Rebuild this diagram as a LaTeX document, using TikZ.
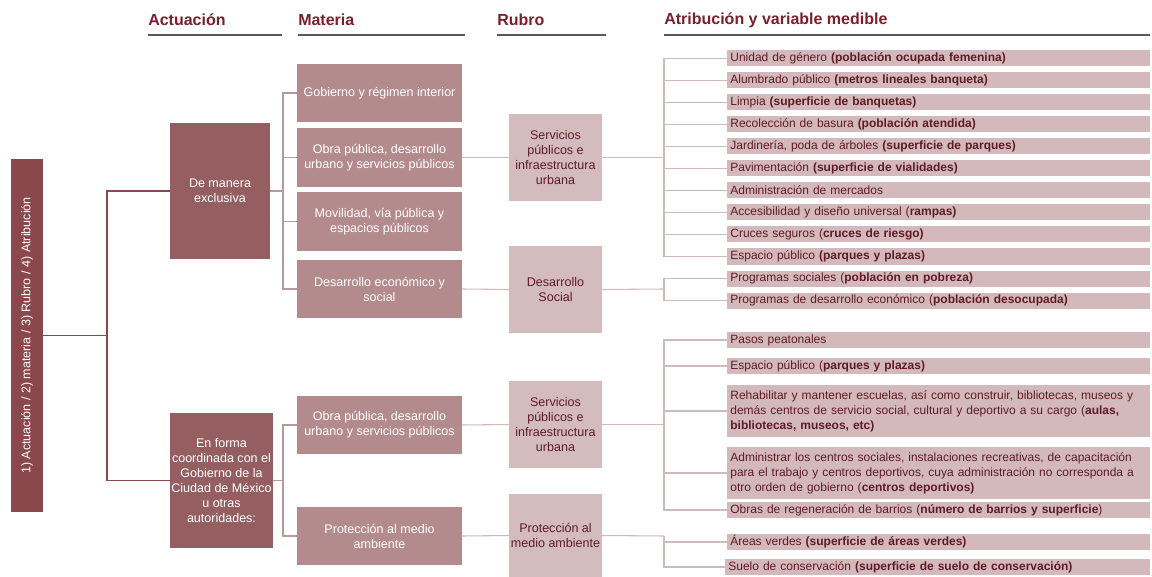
\documentclass[tikz,border=0pt]{standalone}
\usepackage{fontspec}
\setmainfont{Liberation Sans}
\definecolor{cL}{HTML}{8A474C}
\definecolor{cA}{HTML}{955F62}
\definecolor{cM}{HTML}{B48B8C}
\definecolor{cR}{HTML}{D4BBBD}
\definecolor{cRow}{HTML}{D3B9BB}
\definecolor{cHead}{HTML}{7A1F2B}
\definecolor{cTxt}{HTML}{5E1B27}
\definecolor{cLineA}{HTML}{8A474C}
\definecolor{cLineB}{HTML}{B39A9B}
\definecolor{cLineC}{HTML}{CDBBBC}
\definecolor{cUl}{HTML}{5A5A5A}
\newcommand\boxat[6]{\node[#1,anchor=north west,minimum width=#4*0.75pt,minimum height=#5*0.75pt] (#2) at (#3) {#6};}
\newcommand\rowat[4]{\node[rowbox,anchor=north west,minimum height=#3*0.75pt] (#1) at (727,#2) {#4};}
\tikzset{
  allbox/.style={rectangle, inner sep=1pt, outer sep=0pt, align=center},
  leftbox/.style={allbox, fill=cL},
  actbox/.style={allbox, fill=cA, text=white, font=\fontsize{9.4}{11.25}\selectfont},
  matbox/.style={allbox, fill=cM, text=white, font=\fontsize{9.4}{11.25}\selectfont},
  rubbox/.style={allbox, fill=cR, text=cTxt, font=\fontsize{9.4}{11.25}\selectfont},
  rowbox/.style={rectangle, fill=cRow, text=cTxt, outer sep=0pt, inner xsep=2.5pt, inner ysep=0pt,
    minimum width=423*0.75pt, text width=423*0.75pt-5pt, align=left, font=\fontsize{9}{11.25}\selectfont},
  head/.style={anchor=west, text=cHead, font=\fontsize{12}{14}\selectfont\bfseries, inner sep=0pt},
  uline/.style={draw=cUl, line width=1.1pt},
  connA/.style={draw=cLineA, line width=1pt},
  connB/.style={draw=cLineB, line width=0.8pt},
  connC/.style={draw=cLineC, line width=0.8pt},
}
\begin{document}
\begin{tikzpicture}[x=0.75pt,y=-0.75pt]
\useasboundingbox[fill=white] (0,0) rectangle (1152,577);

% headers
\node[head] (h1) at (148,20) {Actuación};
\node[head] (h2) at (298,20) {Materia};
\node[head] (h3) at (497,20) {Rubro};
\node[head] (h4) at (664,20) {Atribución y variable medible};
\draw[uline] (148,35) -- (282,35);
\draw[uline] (298,35) -- (465,35);
\draw[uline] (497,35) -- (606,35);
\draw[uline] (664,35) -- (1150,35);

% left box
\boxat{leftbox}{L}{11,159}{32}{353}{}
\node[rotate=90, text=white, inner sep=0pt, font=\fontsize{9.4}{11.25}\selectfont] (Ltxt) at (L.center) {1) Actuación / 2) materia / 3) Rubro / 4) Atribución};

% actuacion
\boxat{actbox}{A1}{170,123}{100}{136}{De manera\\exclusiva}
\boxat{actbox}{A2}{170,413}{100}{135}{En forma\\coordinada con el\\Gobierno de la\\Ciudad de México\\u otras\\autoridades:}

% materia
\boxat{matbox}{M1}{297,64}{165}{58}{Gobierno y régimen interior}
\boxat{matbox}{M2}{297,128}{165}{59}{Obra pública, desarrollo\\urbano y servicios públicos}
\boxat{matbox}{M3}{297,192}{165}{59}{Movilidad, vía pública y\\espacios públicos}
\boxat{matbox}{M4}{297,260}{165}{58}{Desarrollo económico y\\social}
\boxat{matbox}{M5}{297,396}{165}{58}{Obra pública, desarrollo\\urbano y servicios públicos}
\boxat{matbox}{M6}{297,507}{165}{58}{Protección al medio\\ambiente}

% rubro
\boxat{rubbox}{R1}{509,114}{93}{87}{Servicios\\públicos e\\infraestructura\\urbana}
\boxat{rubbox}{R2}{509,246}{93}{87}{Desarrollo\\Social}
\boxat{rubbox}{R3}{509,381}{93}{87}{Servicios\\públicos e\\infraestructura\\urbana}
\boxat{rubbox}{R4}{509,494}{93}{83}{Protección al\\medio ambiente}

% rows (top group)
\rowat{T1}{50.5}{16}{Unidad de género \textbf{(población ocupada femenina)}}
\rowat{T2}{72.5}{16}{Alumbrado público \textbf{(metros lineales banqueta)}}
\rowat{T3}{94.5}{16}{Limpia \textbf{(superficie de banquetas)}}
\rowat{T4}{116.5}{16}{Recolección de basura \textbf{(población atendida)}}
\rowat{T5}{138.5}{16}{Jardinería, poda de árboles \textbf{(superficie de parques)}}
\rowat{T6}{160.5}{16}{Pavimentación \textbf{(superficie de vialidades)}}
\rowat{T7}{182.5}{16}{Administración de mercados}
\rowat{T8}{204.5}{16}{Accesibilidad y diseño universal (\textbf{rampas)}}
\rowat{T9}{226.5}{16}{Cruces seguros (\textbf{cruces de riesgo)}}
\rowat{T10}{248.5}{16}{Espacio público \textbf{(parques y plazas)}}
\rowat{T11}{270.5}{16}{Programas sociales (\textbf{población en pobreza)}}
\rowat{T12}{292.5}{16}{Programas de desarrollo económico (\textbf{población desocupada)}}

% rows (lower group)
\rowat{U1}{332}{16}{Pasos peatonales}
\rowat{U2}{358}{16}{Espacio público (\textbf{parques y plazas)}}
\rowat{U3}{385}{52}{Rehabilitar y mantener escuelas, así como construir, bibliotecas, museos y\\demás centros de servicio social, cultural y deportivo a su cargo (\textbf{aulas,}\\\textbf{bibliotecas, museos, etc)}}
\rowat{U4}{447}{52}{Administrar los centros sociales, instalaciones recreativas, de capacitación\\para el trabajo y centros deportivos, cuya administración no corresponda a\\otro orden de gobierno (\textbf{centros deportivos)}}
\rowat{U5}{502}{16}{Obras de regeneración de barrios (\textbf{número de barrios y superficie})}
\rowat{V1}{534}{16}{Áreas verdes \textbf{(superficie de áreas verdes)}}
\node[rowbox,anchor=north west,minimum height=16*0.75pt,minimum width=425*0.75pt,text width=425*0.75pt-5pt] (V2) at (725,559) {Suelo de conservación \textbf{(superficie de suelo de conservación)}};

% junctions
\coordinate (j1) at (107,335.5);
\coordinate (j2) at (283,191);
\coordinate (j3) at (283,480.5);
\coordinate (j4) at (664,157.5);
\coordinate (j5) at (664,424.5);
\coordinate (j6) at (664,536);

% connectors: left -> actuacion
\draw[connA] (L.east) -- (j1);
\draw[connA] (A1.west) -| (j1) |- (A2.west);

% actuacion -> materia
\draw[connB] (A1.east) -- (j2);
\draw[connB] (M1.west) -| (j2);
\draw[connB] (M4.west) -| (j2);
\draw[connB] (M2.west) -- (M2.west -| j2);
\draw[connB] (M3.west) -- (M3.west -| j2);
\draw[connB] (A2.east) -- (j3);
\draw[connB] (M5.west) -| (j3);
\draw[connB] (M6.west) -| (j3);

% materia -> rubro
\draw[connC] (M2.east) -- (R1.west);
\draw[connC] (M4.east) -- (R2.west);
\draw[connC] (M5.east) -- (R3.west);
\draw[connC] (M6.east) -- (R4.west);

% rubro -> rows
\draw[connC] (R1.east) -- (j4);
\draw[connC] (T1.west) -| (j4);
\draw[connC] (T10.west) -| (j4);
\foreach \r in {T2,T3,T4,T5,T6,T7,T8,T9} \draw[connC] (\r.west) -- (\r.west -| j4);
\coordinate (j7) at (664,289);
\draw[connC] (R2.east) -- (j7);
\draw[connC] (T11.west) -| (j7);
\draw[connC] (T12.west) -| (j7);
\draw[connC] (R3.east) -- (j5);
\draw[connC] (U1.west) -| (j5);
\draw[connC] (U5.west) -| (j5);
\foreach \r in {U2,U3,U4} \draw[connC] (\r.west) -- (\r.west -| j5);
\draw[connC] (R4.east) -- (j6);
\draw[connC] (V1.west) -| (j6);
\draw[connC] (V2.west) -| (j6);
\end{tikzpicture}
\end{document}
